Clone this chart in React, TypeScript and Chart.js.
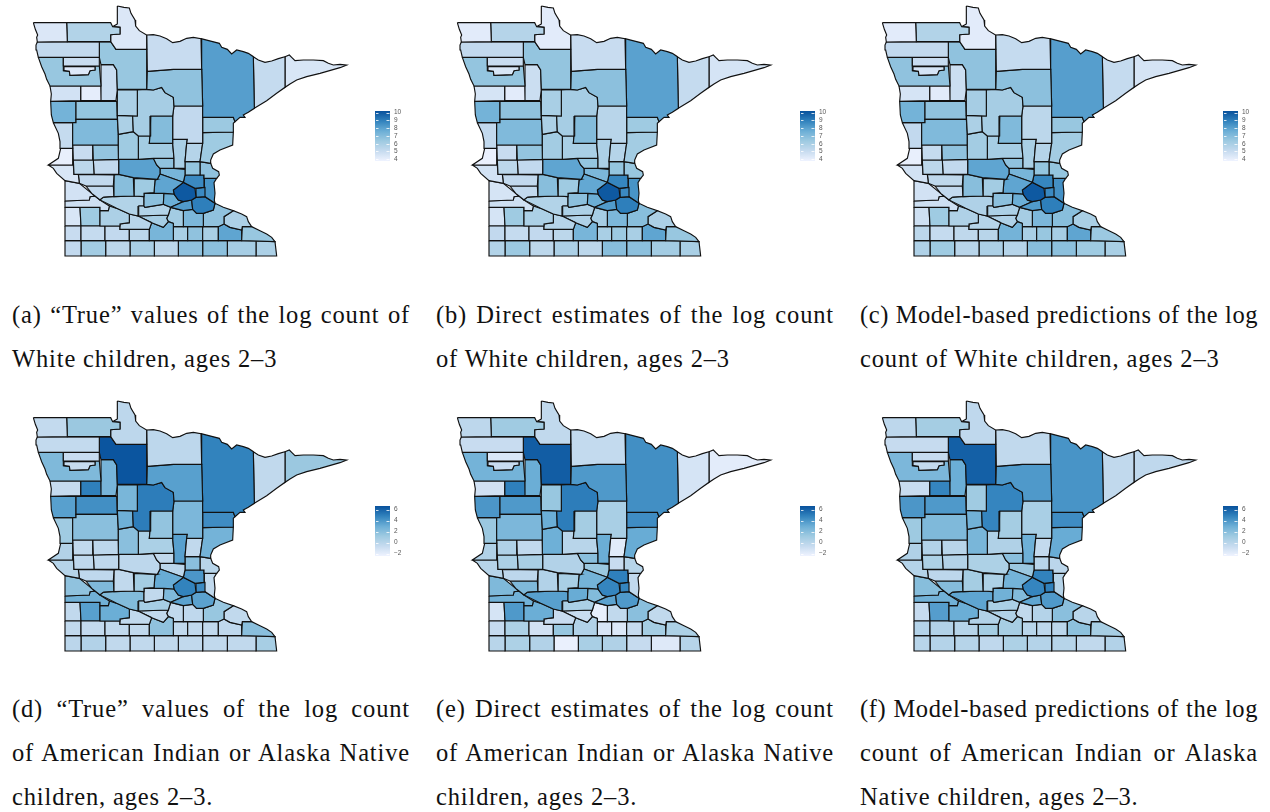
import React, { useEffect, useRef } from "react";
import { Chart, registerables } from "chart.js";

Chart.register(...registerables);

const countyNames = ["Kittson","Roseau","Lake of the Woods","Marshall","Pennington","Red Lake","Polk","Beltrami","Clearwater","Norman","Mahnomen","Koochiching","Itasca","St. Louis","Lake","Cook","Hubbard","Cass","Crow Wing","Aitkin","Carlton","Pine","Kanabec","Mille Lacs","Wadena","Todd","Morrison","Benton","Otter Tail","Becker","Clay","Wilkin","Traverse","Grant","Douglas","Stevens","Pope","Big Stone","Swift","Stearns","Kandiyohi","Meeker","Wright","Sherburne","Isanti","Chisago","Anoka","Hennepin","Ramsey","Washington","Dakota","Scott","Carver","McLeod","Sibley","Renville","Chippewa","Lac qui Parle","Yellow Medicine","Redwood","Brown","Nicollet","Blue Earth","Le Sueur","Rice","Goodhue","Wabasha","Winona","Olmsted","Dodge","Steele","Waseca","Watonwan","Cottonwood","Murray","Pipestone","Lyon","Lincoln","Rock","Nobles","Jackson","Martin","Faribault","Freeborn","Mower","Fillmore","Houston"];

// County outlines in map units, flat x,y lists, same order as countyNames
const countyOutlines: number[][] = [
  [40,68,140,68,142,125,52,126,50,112,53,105,46,88],
  [140,68,272,68,278,80,300,82,300,102,272,104,272,125,142,125],
  [292,18,312,22,328,24,333,40,345,60,347,78,358,92,380,105,380,148,288,148,272,125,272,104,300,102,300,82,278,80,292,72],
  [52,126,238,126,238,172,130,172,55,172,50,150,48,135],
  [130,172,238,172,238,198,130,198],
  [132,200,225,200,225,210,210,212,205,224,150,226,148,214,134,212],
  [55,172,130,172,130,212,148,214,150,226,205,224,210,212,225,210,225,198,238,198,243,258,90,258,80,238,75,222,65,200],
  [238,126,272,125,288,148,380,148,380,214,380,268,292,268,290,210,280,194,243,194,238,172],
  [243,194,280,194,290,210,292,268,288,302,245,302,243,258],
  [90,258,182,258,182,302,92,304,94,282],
  [182,258,243,258,245,302,182,302],
  [380,105,400,104,420,108,440,116,458,128,480,124,500,115,520,112,543,116,545,208,460,208,382,214],
  [380,268,400,270,425,262,435,278,460,292,462,318,548,318,545,208,460,208,382,214],
  [543,116,575,124,598,130,605,142,622,148,635,162,650,150,670,155,685,160,700,170,703,325,685,337,670,345,675,352,660,352,645,365,640,352,548,352,548,318,545,208],
  [700,170,715,180,735,187,755,183,775,176,795,170,795,262,770,280,740,302,703,325],
  [795,170,808,165,815,172,825,182,850,180,880,180,910,182,925,190,940,195,960,193,980,195,960,203,900,220,860,230,830,240,810,252,795,262],
  [292,270,352,270,352,348,292,346],
  [352,270,380,268,400,270,425,262,435,278,460,292,462,318,458,348,392,348,390,408,355,408,340,395,338,348,352,348],
  [392,348,458,348,458,430,388,430,390,408],
  [462,318,548,318,548,430,500,430,502,418,458,418,458,348],
  [548,352,640,352,645,365,640,370,640,396,548,398],
  [548,398,640,396,638,435,600,450,580,462,572,480,572,490,540,485,548,430],
  [500,430,548,430,540,485,495,485],
  [458,418,502,418,500,430,495,485,495,505,462,505,462,475,458,430],
  [292,346,338,348,340,395,295,403],
  [295,403,340,395,355,408,355,478,296,478],
  [355,408,390,408,388,430,458,430,462,475,400,475,356,478],
  [400,475,462,475,462,505,420,505,410,495],
  [158,368,168,368,168,358,292,358,295,403,295,435,158,435],
  [168,304,290,304,292,358,168,358],
  [92,304,168,304,168,368,100,368,94,345],
  [100,368,158,368,158,445,122,445,120,425,115,400],
  [122,445,158,445,158,495,85,495,115,475],
  [158,435,218,435,218,480,160,480],
  [218,435,295,435,296,478,220,480],
  [160,480,220,480,222,523,162,523],
  [220,480,296,478,296,523,222,523],
  [85,495,160,495,162,523,175,523,178,550,135,542,110,520,100,505],
  [175,523,282,525,280,558,198,558,178,550],
  [296,478,356,478,400,475,410,495,420,505,420,522,412,538,340,533,296,523],
  [282,525,296,523,340,533,342,588,282,590],
  [342,535,412,538,405,540,402,578,372,580,372,590,342,588],
  [405,540,412,538,420,522,490,547,460,570,462,582,432,580,372,580,402,578],
  [420,505,462,505,495,508,495,525,490,547,420,522],
  [495,485,540,485,540,525,495,525],
  [540,485,572,490,578,505,596,515,598,525,590,535,552,535,552,525,540,525],
  [495,525,552,525,552,562,525,565,490,547],
  [460,570,490,547,525,565,528,592,515,600,490,605,475,600,462,582],
  [528,565,555,562,555,590,528,592],
  [552,535,590,535,582,548,585,580,583,600,585,610,555,590,555,562,552,562],
  [515,600,528,592,555,590,585,610,580,630,550,640,530,640,518,628],
  [452,622,490,605,515,600,518,628,490,632],
  [432,580,462,582,475,600,490,605,452,622,430,613],
  [372,580,432,580,430,613,375,622,372,618],
  [356,618,372,618,375,622,430,613,452,622,445,645,354,648],
  [250,592,282,590,342,588,372,590,372,618,356,618,354,648,328,642,290,625,240,600],
  [198,558,280,558,282,590,250,592,240,600,225,588,215,580],
  [135,542,178,550,215,580,225,588,210,590,208,600,135,603],
  [135,603,208,600,210,590,225,588,240,600,268,618,265,632,240,632,240,622,180,622,135,622],
  [240,632,265,632,268,618,290,625,328,642,328,668,300,672,300,678,240,678],
  [300,672,328,668,328,642,354,648,395,668,388,688,300,688],
  [354,648,445,645,440,655,445,665,430,682,395,668],
  [388,688,395,668,430,682,445,665,460,670,460,722,388,722],
  [445,645,452,622,490,632,490,680,460,680,460,670,445,665,440,655],
  [490,632,518,628,530,640,550,640,550,680,490,680],
  [550,640,580,630,585,610,610,622,640,632,612,650,612,672,595,680,550,680],
  [612,650,640,632,665,642,680,650,685,665,695,680,667,680,665,690,630,682,612,672],
  [667,680,695,680,720,692,740,702,755,712,765,725,665,722],
  [595,680,612,672,630,682,665,690,665,722,595,722],
  [548,680,595,680,595,722,548,722],
  [503,680,548,680,548,722,503,722],
  [460,680,503,680,503,722,460,722],
  [328,688,388,688,388,722,328,722],
  [255,678,300,678,300,688,328,688,328,722,255,722],
  [183,678,255,678,255,722,183,722],
  [135,678,183,678,183,722,135,722],
  [180,622,240,622,240,678,183,678],
  [135,622,180,622,183,678,135,678],
  [135,722,183,722,183,768,135,768],
  [183,722,257,722,257,768,183,768],
  [257,722,330,722,330,768,257,768],
  [330,722,403,722,403,768,330,768],
  [403,722,475,722,475,768,403,768],
  [475,722,548,722,548,768,475,768],
  [548,722,622,722,622,768,548,768],
  [622,722,708,722,708,768,622,768],
  [708,722,765,725,770,768,708,768],
];

// Log counts read by shade, same order as countyNames
const whiteTrue = [4.4,5.7,4.4,5.2,5.0,4.3,6.5,6.5,5.0,4.7,4.1,5.0,6.7,8.1,5.1,4.5,5.9,6.1,7.0,5.2,6.4,6.3,5.6,6.0,5.9,6.3,6.2,6.7,7.1,6.6,7.4,5.1,4.0,5.0,6.6,5.4,5.2,4.5,5.2,8.0,6.9,6.3,7.9,7.3,6.6,6.7,8.7,10.0,8.7,8.4,9.0,8.2,7.6,6.8,5.7,5.7,5.2,4.7,4.8,5.9,5.5,6.1,7.3,6.2,7.2,6.7,5.9,6.5,7.9,6.0,6.7,6.0,5.4,5.2,5.1,5.0,6.3,4.5,5.2,6.2,5.4,6.0,5.4,6.7,6.8,6.1,5.9];
const whiteDirect = [4.2,5.6,4.2,5.2,5.0,4.5,6.6,6.6,4.9,4.6,4.2,5.0,6.8,8.0,5.1,4.6,6.0,6.1,7.0,5.5,6.3,6.2,5.6,5.9,5.9,6.2,6.0,6.6,7.1,6.7,7.4,5.2,3.95,5.0,6.6,5.4,5.2,4.7,5.2,7.9,6.9,6.3,7.8,7.2,6.6,6.5,8.8,10.0,8.7,8.4,9.0,8.2,7.6,6.8,5.9,5.7,5.2,4.6,4.8,5.9,5.6,5.8,7.3,6.1,7.2,6.9,5.9,6.5,7.9,6.0,6.4,6.0,5.4,5.2,5.1,5.2,6.3,4.6,5.7,6.4,5.4,5.9,5.4,6.9,6.8,6.2,6.0];
const whiteModel = [4.2,5.7,4.2,5.2,5.0,4.6,6.7,6.7,4.9,4.6,4.2,5.1,6.8,8.1,5.1,4.6,6.1,6.1,7.1,5.4,6.5,6.2,5.6,6.0,5.9,6.2,6.1,6.7,7.1,6.7,7.4,5.2,4.0,5.1,6.7,5.4,5.2,4.7,5.3,7.9,6.9,6.2,7.9,7.3,6.6,6.6,8.8,10.0,8.7,8.5,9.0,8.2,7.6,6.8,5.9,5.8,5.2,4.7,4.8,5.8,5.6,5.8,7.4,6.1,7.2,6.9,6.0,6.4,7.9,6.1,6.5,6.0,5.5,5.3,5.1,5.4,6.3,4.8,5.8,6.3,5.5,5.9,5.6,6.9,6.8,6.3,6.0];
const nativeTrue = [-0.5,1.3,-0.2,-0.5,-0.7,-0.6,2.3,6.5,2.6,-0.6,4.9,-0.2,3.6,4.8,-0.4,1.3,2.5,5.0,1.6,2.4,4.4,2.7,-0.4,3.6,2.9,1.9,0.6,-0.4,1.9,4.3,3.6,1.1,0.3,-0.4,-0.2,-0.3,-0.3,0.1,-0.3,-0.2,-0.4,0.9,3.1,-0.1,1.9,0.0,4.0,4.8,4.5,-0.4,3.5,3.5,2.3,-0.4,0.8,2.2,2.3,1.7,2.8,3.0,-0.4,-0.4,1.7,-0.4,-0.3,1.4,-0.4,1.9,-0.3,-0.4,-0.4,-0.4,-0.4,-0.4,-0.5,-0.4,3.6,-0.4,-0.1,0.3,-0.4,-0.4,-0.4,-0.4,-0.4,-0.4,0.8];
const nativeDirect = [-0.2,1.1,-0.4,-0.7,-1.5,-0.7,2.7,6.2,3.0,-1.1,4.9,-0.5,3.9,4.3,-1.3,-1.9,1.4,5.0,0.9,0.7,4.4,3.1,-1.8,3.0,3.0,2.9,0.0,1.9,2.4,3.9,4.0,1.3,0.4,0.4,-0.4,0.6,0.7,0.1,-0.2,0.3,0.3,0.7,2.7,1.3,-0.7,0.1,4.9,4.7,4.7,-0.4,3.9,3.5,2.2,3.1,0.6,3.6,2.3,2.3,2.8,3.0,-0.7,-0.7,0.3,-2.1,-0.4,1.9,-0.4,0.5,0.9,-0.6,-1.6,-1.4,1.4,-1.1,0.5,-0.6,3.9,-1.3,0.0,0.5,0.3,-2.2,0.7,0.4,-0.6,-1.7,0.1];
const nativeModel = [-0.2,0.9,-0.3,-0.6,-0.6,-0.5,2.4,6.1,3.0,-0.7,4.7,-0.4,3.9,4.1,-0.4,-0.3,1.1,4.7,0.9,0.7,4.4,3.1,-0.5,2.9,2.8,2.5,0.4,1.9,2.3,3.9,4.0,1.2,0.4,0.3,0.0,0.5,0.3,0.2,-0.2,0.5,0.9,0.5,2.7,1.3,0.0,-0.1,4.8,4.7,4.9,0.1,3.9,3.4,2.2,2.8,0.6,3.4,2.1,2.0,2.8,3.0,0.3,0.4,0.8,-0.4,0.2,1.9,0.0,0.8,1.8,-0.1,-0.2,0.0,0.9,0.1,0.3,0.2,3.7,-0.6,0.0,0.2,0.1,-0.3,0.5,0.2,0.1,-0.4,0.3];

const whiteTicks = [4, 5, 6, 7, 8, 9, 10];
const nativeTicks = [-2, 0, 2, 4, 6];
const whiteRange = [3.78, 10.2];
const nativeRange = [-2.44, 6.65];
const blues = ["#EFF3FF", "#C6DBEF", "#9ECAE1", "#6BAED6", "#3182BD", "#08519C"];

const captions = [
  [["(a) “True” values of the log count of", true], ["White children, ages 2–3", false]],
  [["(b) Direct estimates of the log count", true], ["of White children, ages 2–3", false]],
  [["(c) Model-based predictions of the log", true], ["count of White children, ages 2–3", false]],
  [["(d) “True” values of the log count", true], ["of American Indian or Alaska Native", true], ["children, ages 2–3.", false]],
  [["(e) Direct estimates of the log count", true], ["of American Indian or Alaska Native", true], ["children, ages 2–3.", false]],
  [["(f) Model-based predictions of the log", true], ["count of American Indian or Alaska", true], ["Native children, ages 2–3.", false]],
] as [string, boolean][][];

function hexRgb(h: string) {
  return [1, 3, 5].map((i) => parseInt(h.slice(i, i + 2), 16));
}
function shade(v: number, range: number[]) {
  const t = Math.min(1, Math.max(0, (v - range[0]) / (range[1] - range[0]))) * (blues.length - 1);
  const i = Math.min(blues.length - 2, Math.floor(t));
  const a = hexRgb(blues[i]);
  const b = hexRgb(blues[i + 1]);
  const f = t - i;
  return `rgb(${a.map((c, k) => Math.round(c + (b[k] - c) * f)).join(",")})`;
}

function MapPanel({ values, range, left, top }: { values: number[]; range: number[]; left: number; top: number }) {
  const ref = useRef<HTMLCanvasElement>(null);
  useEffect(() => {
    const chart = new Chart(ref.current!, {
      type: "scatter",
      data: {
        datasets: countyOutlines.map((o, i) => {
          const pts: { x: number; y: number }[] = [];
          for (let k = 0; k < o.length; k += 2) pts.push({ x: o[k], y: o[k + 1] });
          pts.push({ x: o[0], y: o[1] });
          return {
            label: countyNames[i],
            data: pts,
            showLine: true,
            fill: "shape",
            tension: 0,
            backgroundColor: shade(values[i], range),
            borderColor: "#111",
            borderWidth: 1.15,
            pointRadius: 0,
            borderJoinStyle: "miter",
          };
        }),
      },
      options: {
        animation: false,
        responsive: false,
        events: [],
        layout: { padding: 0 },
        plugins: { legend: { display: false }, tooltip: { enabled: false } },
        scales: {
          x: { type: "linear", min: 0, max: 1020, display: false },
          y: { type: "linear", min: 0, max: 795, reverse: true, display: false },
        },
      },
    } as any);
    return () => chart.destroy();
  }, []);
  return (
    <canvas
      ref={ref}
      width={340}
      height={265}
      style={{ position: "absolute", left, top, width: 340, height: 265, filter: "blur(0.3px)" }}
    />
  );
}

function LegendPanel({ range, ticks, left, top }: { range: number[]; ticks: number[]; left: number; top: number }) {
  const ref = useRef<HTMLCanvasElement>(null);
  useEffect(() => {
    const tickMarks = {
      id: "tickMarks",
      afterDatasetsDraw(c: any) {
        const { ctx, chartArea, scales } = c;
        ctx.save();
        ctx.strokeStyle = "rgba(255,255,255,0.8)";
        ctx.lineWidth = 1;
        for (const t of ticks) {
          const y = Math.round(scales.y.getPixelForValue(t)) + 0.5;
          ctx.beginPath();
          ctx.moveTo(chartArea.left + 1, y);
          ctx.lineTo(chartArea.left + 3.5, y);
          ctx.moveTo(chartArea.right - 3.5, y);
          ctx.lineTo(chartArea.right - 0.5, y);
          ctx.stroke();
        }
        ctx.restore();
      },
    };
    const chart = new Chart(ref.current!, {
      type: "bar",
      data: {
        labels: ["scale"],
        datasets: [
          {
            data: [[range[0], range[1]]],
            categoryPercentage: 1,
            barPercentage: 1,
            borderWidth: 0,
            backgroundColor: (ctx: any) => {
              const area = ctx.chart.chartArea;
              if (!area) return blues[3];
              const g = ctx.chart.ctx.createLinearGradient(0, area.bottom, 0, area.top);
              blues.forEach((b, i) => g.addColorStop(i / (blues.length - 1), b));
              return g;
            },
          },
        ],
      },
      options: {
        animation: false,
        responsive: false,
        events: [],
        layout: { padding: { left: 15, right: 10, top: 11, bottom: 9 } },
        plugins: { legend: { display: false }, tooltip: { enabled: false } },
        scales: {
          x: { display: false },
          y: {
            position: "right",
            min: range[0],
            max: range[1],
            afterBuildTicks: (s: any) => {
              s.ticks = ticks.map((value) => ({ value }));
            },
            afterFit: (s: any) => {
              s.width = 20;
            },
            grid: { display: false, drawTicks: false },
            border: { display: false },
            ticks: {
              autoSkip: false,
              padding: 4,
              color: "#555",
              font: { family: "Liberation Sans", size: 6.5 },
              callback: (v: any) => String(v).replace("-", "−"),
            },
          },
        },
      },
      plugins: [tickMarks],
    } as any);
    return () => chart.destroy();
  }, []);
  return (
    <canvas
      ref={ref}
      width={60}
      height={70}
      style={{ position: "absolute", left, top, width: 60, height: 70, filter: "blur(0.3px)" }}
    />
  );
}

const columnMapLeft = [20, 444, 868.7];
const columnLegendLeft = [360, 785, 1208];
const rowMapTop = [0, 394.5];
const rowLegendTop = [100, 495];
const columnTextLeft = [12, 436, 860];
const rowTextTop = [293, 687];

export default function App() {
  const series = [whiteTrue, whiteDirect, whiteModel, nativeTrue, nativeDirect, nativeModel];
  return (
    <div style={{ position: "absolute", left: 0, top: 0, width: 1270, height: 812, overflow: "hidden", background: "#fff" }}>
      {series.map((values, i) => {
        const col = i % 3;
        const row = Math.floor(i / 3);
        return (
          <React.Fragment key={i}>
            <MapPanel values={values} range={row === 0 ? whiteRange : nativeRange} left={columnMapLeft[col]} top={rowMapTop[row]} />
            <LegendPanel range={row === 0 ? whiteRange : nativeRange} ticks={row === 0 ? whiteTicks : nativeTicks} left={columnLegendLeft[col]} top={rowLegendTop[row]} />
            <div
              style={{
                position: "absolute",
                left: columnTextLeft[col],
                top: rowTextTop[row],
                width: 398,
                fontFamily: "'Liberation Serif', serif",
                fontSize: 24.5,
                lineHeight: "44px",
                color: "#111",
              }}
            >
              {captions[i].map(([text, full], k) => (
                <div key={k} style={{ whiteSpace: "nowrap", letterSpacing: text.length > 37 ? 0.56 : 0.85, textAlign: full ? "justify" : "left", textAlignLast: full ? "justify" : "left" }}>
                  {text}
                </div>
              ))}
            </div>
          </React.Fragment>
        );
      })}
    </div>
  );
}
